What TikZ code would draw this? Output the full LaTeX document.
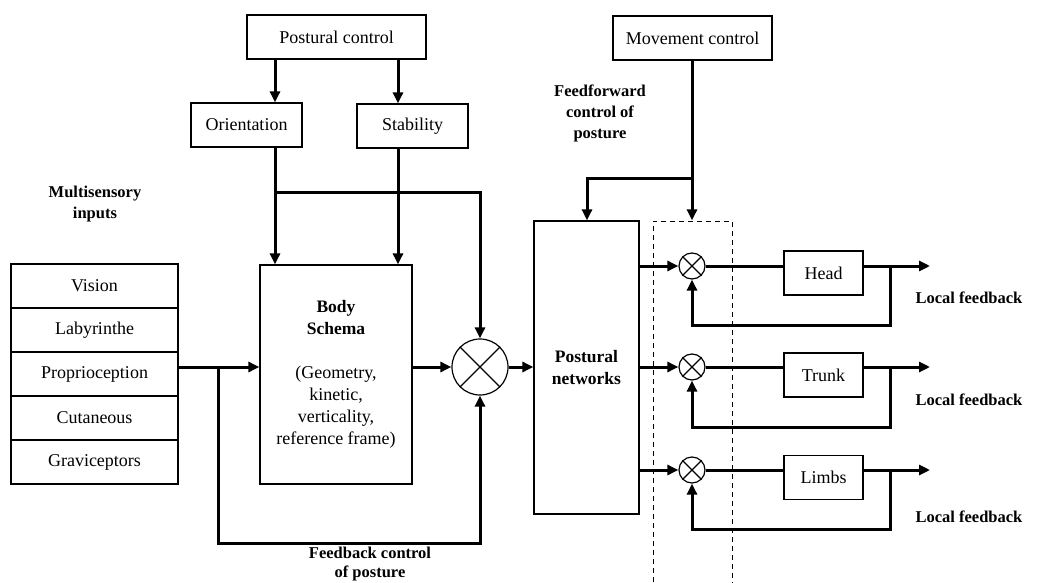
\documentclass[tikz,border=0pt]{standalone}
\usepackage{fontspec}
\setmainfont{Liberation Serif}
\usetikzlibrary{arrows.meta}

\begin{document}
\begin{tikzpicture}[x=10pt,y=10pt]
\tikzstyle{every node}+=[inner sep=0pt]
\tikzstyle{box}=[draw, line width=1.2pt, minimum height=44pt, font=\fontsize{18}{22}\selectfont]
\tikzstyle{lbl}=[align=center, font=\fontsize{16.5}{21}\selectfont\bfseries]
\tikzstyle{sumc}=[draw, circle, line width=1.2pt]
\tikzstyle{arr}=[line width=3pt, -{Triangle[length=11pt,width=10pt]}]
\tikzstyle{wire}=[line width=3pt]
\useasboundingbox (0,0) rectangle (104.7,-58.3);
% columns and corners
\coordinate (colL) at (27.5,0);
\coordinate (colR) at (39.8,0);
\coordinate (colM) at (69.2,0);
\coordinate (jn) at (48.0,-19.2);
\coordinate (fb) at (21.8,-54.3);
\coordinate (ff) at (58.7,-17.8);
\coordinate (outx) at (93.0,0);
\coordinate (lpx) at (89.0,0);
% top boxes
\node [box, minimum width=179pt] (pc) at (33.65,-3.7) {Postural control};
\node [box, minimum width=111pt] (orient) at (24.65,-12.5) {Orientation};
\node [box, minimum width=111pt] (stab) at (41.25,-12.6) {Stability};
\node [box, minimum width=159pt] (mc) at (69.25,-3.8) {Movement control};
% sensory stack
\node [box, minimum width=167pt] (vision) at (9.45,-28.6) {Vision};
\node [box, minimum width=167pt] (laby) at (9.45,-33.0) {Labyrinthe};
\node [box, minimum width=167pt] (prop) at (9.45,-37.4) {Proprioception};
\node [box, minimum width=167pt] (cut) at (9.45,-41.8) {Cutaneous};
\node [box, minimum width=167pt] (grav) at (9.45,-46.2) {Graviceptors};
% main blocks
\node [box, minimum width=152pt, minimum height=219pt, align=center] (body) at (33.6,-37.45)
  {\textbf{\fontsize{17.5}{22}\selectfont Body}\\\textbf{\fontsize{17.5}{22}\selectfont Schema}\\[22pt](Geometry,\\kinetic,\\verticality,\\reference frame)};
\node [sumc, minimum size=56pt] (sum) at (48.0,-36.7) {};
\draw [line width=1.2pt] (sum.north west) -- (sum.south east);
\draw [line width=1.2pt] (sum.north east) -- (sum.south west);
\node [box, minimum width=105pt, minimum height=293pt, align=center, font=\fontsize{17.5}{22}\selectfont\bfseries] (net) at (58.65,-36.75) {Postural\\networks};
% small junctions
\node [sumc, minimum size=26pt] (s1) at (69.2,-26.6) {};
\node [sumc, minimum size=26pt] (s2) at (69.2,-36.7) {};
\node [sumc, minimum size=26pt] (s3) at (69.2,-47.0) {};
\draw [line width=1.2pt] (s1.north west) -- (s1.south east);
\draw [line width=1.2pt] (s1.north east) -- (s1.south west);
\draw [line width=1.2pt] (s2.north west) -- (s2.south east);
\draw [line width=1.2pt] (s2.north east) -- (s2.south west);
\draw [line width=1.2pt] (s3.north west) -- (s3.south east);
\draw [line width=1.2pt] (s3.north east) -- (s3.south west);
\node [box, minimum width=79pt] (head) at (82.35,-27.3) {Head};
\node [box, minimum width=79pt] (trunk) at (82.35,-37.5) {Trunk};
\node [box, minimum width=79pt] (limbs) at (82.35,-47.75) {Limbs};
% dashed frame
\draw [line width=1pt, dash pattern=on 5pt off 4pt] (65.3,-60) -- (65.3,-22.1) -- (73.2,-22.1) -- (73.2,-60);
% labels
\node [lbl] (msi) at (9.5,-20.4) {Multisensory\\inputs};
\node [lbl] (ffc) at (60.0,-11.3) {Feedforward\\control of\\posture};
\node [lbl, font=\fontsize{16.5}{19}\selectfont\bfseries] (fbc) at (37.0,-56.4) {Feedback control\\of posture};
\node [lbl] (lf1) at (96.9,-29.8) {Local feedback};
\node [lbl] (lf2) at (96.9,-40.0) {Local feedback};
\node [lbl] (lf3) at (96.9,-51.7) {Local feedback};
% connectors
\draw [arr] (pc.south -| colL) -- (orient.north -| colL);
\draw [arr] (pc.south -| colR) -- (stab.north -| colR);
\draw [arr] (orient.south -| colL) -- (body.north -| colL);
\draw [arr] (stab.south -| colR) -- (body.north -| colR);
\draw [arr] (jn -| colL) -- (jn) -- (sum.north);
\draw [arr] (prop.east |- sum) -- (body.west |- sum);
\draw [arr] (fb |- sum) -- (fb) -- (fb -| sum) -- (sum.south);
\draw [arr] (body.east |- sum) -- (sum.west);
\draw [arr] (sum.east) -- (net.west |- sum);
\draw [arr] (mc.south -| colM) -- (net.north -| colM);
\draw [arr] (ff -| colM) -- (ff) -- (net.north -| ff);
% head loop
\draw [arr] (net.east |- s1) -- (s1.west);
\draw [wire] (s1.east) -- (s1 -| head.west);
\draw [arr] (s1 -| head.east) -- (s1 -| outx);
\draw [arr] (s1 -| lpx) -- (lpx |- 0,-32.5) -- (s1 |- 0,-32.5) -- (s1.south);
% trunk loop
\draw [arr] (net.east |- s2) -- (s2.west);
\draw [wire] (s2.east) -- (s2 -| trunk.west);
\draw [arr] (s2 -| trunk.east) -- (s2 -| outx);
\draw [arr] (s2 -| lpx) -- (lpx |- 0,-42.7) -- (s2 |- 0,-42.7) -- (s2.south);
% limbs loop
\draw [arr] (net.east |- s3) -- (s3.west);
\draw [wire] (s3.east) -- (s3 -| limbs.west);
\draw [arr] (s3 -| limbs.east) -- (s3 -| outx);
\draw [arr] (s3 -| lpx) -- (lpx |- 0,-52.9) -- (s3 |- 0,-52.9) -- (s3.south);
\end{tikzpicture}
\end{document}
